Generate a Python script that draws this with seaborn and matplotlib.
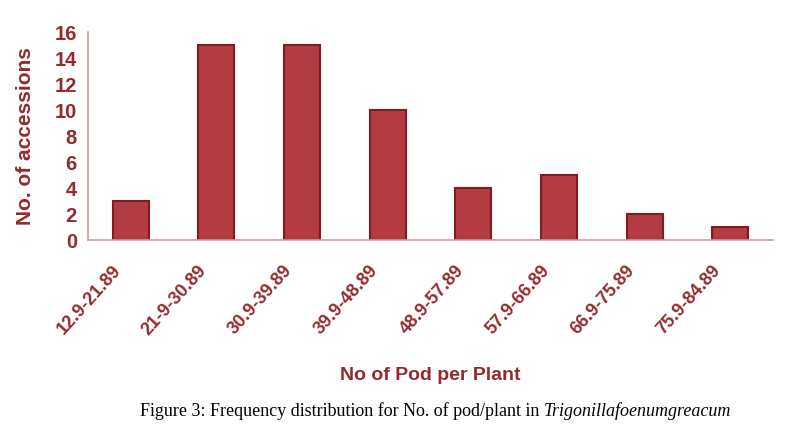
import seaborn as sns
import matplotlib.pyplot as plt
import pandas as pd
import numpy as np

# Pod-per-plant classes and the number of accessions in each
pod_classes = ["12.9-21.89", "21-9-30.89", "30.9-39.89", "39.9-48.89",
               "48.9-57.89", "57.9-66.89", "66.9-75.89", "75.9-84.89"]
accessions = [3, 15, 15, 10, 4, 5, 2, 1]
y_ticks = [0, 2, 4, 6, 8, 10, 12, 14, 16]

df = pd.DataFrame({"cls": pod_classes, "n": accessions})

sns.set_style("white")
plt.rcParams["font.family"] = ["Liberation Sans", "DejaVu Sans"]

text_red = "#952a2c"
bar_fill = "#b23c42"
bar_edge = "#861a21"
axis_pink = "#d79a9c"

fig = plt.figure(figsize=(7.93, 4.44), dpi=100)
ax = fig.add_axes([88 / 793, 204 / 444, 685 / 793, 208 / 444])

sns.barplot(data=df, x="cls", y="n", order=pod_classes, color=bar_fill,
            saturation=1, edgecolor=bar_edge, linewidth=1.5, width=0.42, ax=ax)

ax.set_xlim(-0.5, len(pod_classes) - 0.5)
ax.set_ylim(0, 16)
ax.set_yticks(y_ticks)
ax.set_yticklabels([str(v) for v in y_ticks], fontsize=14.5, fontweight="bold", color=text_red)

# category labels sit a little left of the bar centres, tick marks between categories
ax.set_xticks(np.arange(len(pod_classes)) - 0.22)
ax.set_xticklabels(pod_classes, rotation=48, ha="right", rotation_mode="anchor",
                   fontsize=13, fontweight="bold", color=text_red)
ax.set_xticks(np.arange(-0.5, len(pod_classes), 1), minor=True)
ax.tick_params(axis="x", which="major", length=0, pad=16)
ax.tick_params(axis="x", which="minor", length=4, color=axis_pink, width=1)
ax.tick_params(axis="y", length=3, color=axis_pink, width=1, pad=5)

for side in ["top", "right"]:
    ax.spines[side].set_visible(False)
for side in ["left", "bottom"]:
    ax.spines[side].set_color(axis_pink)
    ax.spines[side].set_linewidth(1.2)

ax.set_xlabel("No of Pod per Plant", fontsize=14, fontweight="bold", color=text_red)
ax.xaxis.label.set_va("center")
ax.xaxis.set_label_coords(0.5, -(375 - 240) / 208)
ax.set_ylabel("No. of accessions", fontsize=15, fontweight="bold", color=text_red)
ax.yaxis.label.set_va("center")
ax.yaxis.set_label_coords(-62 / 685, 0.5)

# caption: regular serif text followed by the italic species name
cap = fig.text(140 / 793, 1 - 411 / 444, "Figure 3: Frequency distribution for No. of pod/plant in ",
               fontsize=13, family="Liberation Serif", color="black", va="center", ha="left")
fig.canvas.draw()
bb = cap.get_window_extent(renderer=fig.canvas.get_renderer())
fig.text(bb.x1 / fig.bbox.width, 1 - 411 / 444, "Trigonillafoenumgreacum",
         fontsize=13, family="Liberation Serif", style="italic", color="black",
         va="center", ha="left")

plt.savefig("out.png", dpi=100)
plt.close()
